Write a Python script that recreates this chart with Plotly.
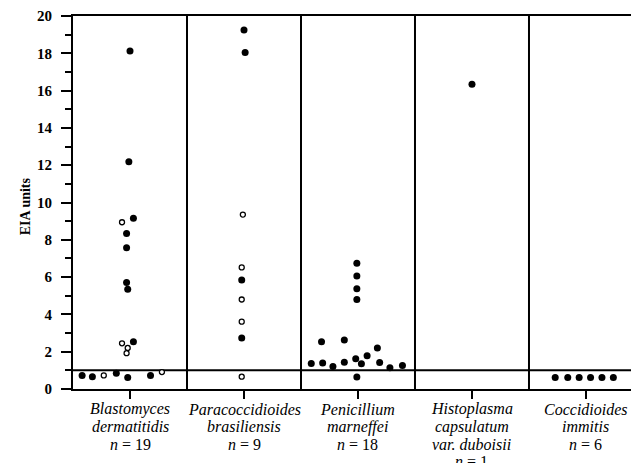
import plotly.graph_objects as go

# ---- data ----
categories = ["Blastomyces dermatitidis", "Paracoccidioides brasiliensis",
              "Penicillium marneffei", "Histoplasma capsulatum var. duboisii",
              "Coccidioides immitis"]
label_lines = [
    ["<i>Blastomyces</i>", "<i>dermatitidis</i>", "<i>n</i> = 19"],
    ["<i>Paracoccidioides</i>", "<i>brasiliensis</i>", "<i>n</i> = 9"],
    ["<i>Penicillium</i>", "<i>marneffei</i>", "<i>n</i> = 18"],
    ["<i>Histoplasma</i>", "<i>capsulatum</i>", "<i>var. duboisii</i>", "<i>n</i> = 1"],
    ["<i>Coccidioides</i>", "<i>immitis</i>", "<i>n</i> = 6"],
]

blasto_values = [18.13, 12.18, 9.16, 8.94, 8.34, 7.57, 5.71, 5.35, 2.54, 2.45,
                 2.20, 1.92, 0.73, 0.66, 0.73, 0.84, 0.62, 0.72, 0.91]
blasto_filled = [1, 1, 1, 0, 1, 1, 1, 1, 1, 0, 0, 0, 1, 1, 0, 1, 1, 1, 0]
blasto_jitter = [0.00, -0.01, 0.03, -0.07, -0.03, -0.03, -0.03, -0.02, 0.03, -0.07,
                 -0.02, -0.03, -0.42, -0.33, -0.23, -0.12, -0.02, 0.18, 0.28]

para_values = [19.25, 18.04, 9.35, 6.52, 5.85, 4.80, 3.61, 2.74, 0.66]
para_filled = [1, 1, 0, 0, 1, 0, 0, 1, 0]
para_jitter = [0.00, 0.01, -0.01, -0.02, -0.02, -0.02, -0.02, -0.02, -0.02]

peni_values = [6.74, 6.06, 5.37, 4.80, 2.54, 2.63, 2.20, 1.78, 1.62, 1.37,
               1.39, 1.44, 1.35, 1.42, 1.21, 1.14, 1.26, 0.64]
peni_filled = [1] * 18
peni_jitter = [-0.01, -0.01, -0.01, -0.01, -0.32, -0.12, 0.17, 0.08, -0.02, -0.41,
               -0.31, -0.12, 0.03, 0.19, -0.22, 0.28, 0.39, -0.01]

histo_values = [16.34]
histo_filled = [1]
histo_jitter = [0.00]

cocci_values = [0.62, 0.62, 0.62, 0.62, 0.62, 0.62]
cocci_filled = [1, 1, 1, 1, 1, 1]
cocci_jitter = [-0.27, -0.16, -0.06, 0.04, 0.14, 0.24]

cutoff = 1.0
y_ticks = [0, 2, 4, 6, 8, 10, 12, 14, 16, 18, 20]
y_tick_labels = ["0", "2", "4", "6", "8", "10", "12", "14", "16", "18", "20"]

groups = [
    (blasto_values, blasto_filled, blasto_jitter),
    (para_values, para_filled, para_jitter),
    (peni_values, peni_filled, peni_jitter),
    (histo_values, histo_filled, histo_jitter),
    (cocci_values, cocci_filled, cocci_jitter),
]

fx, fy, ox, oy = [], [], [], []
for i, (vals, filled, jit) in enumerate(groups):
    for v, f, j in zip(vals, filled, jit):
        if f:
            fx.append(i + j); fy.append(v)
        else:
            ox.append(i + j); oy.append(v)

fig = go.Figure()
fig.add_trace(go.Scatter(x=fx, y=fy, mode="markers", showlegend=False,
                         marker=dict(size=7, color="black", line=dict(width=0))))
fig.add_trace(go.Scatter(x=ox, y=oy, mode="markers", showlegend=False,
                         marker=dict(size=5, color="white",
                                     line=dict(width=1.3, color="black"))))

# panel separators
for k in range(len(categories) - 1):
    fig.add_shape(type="line", xref="x", yref="paper", x0=k + 0.5, x1=k + 0.5,
                  y0=0, y1=1, line=dict(color="black", width=2), layer="below")
# cut-off line
fig.add_shape(type="line", xref="paper", yref="y", x0=0, x1=1, y0=cutoff, y1=cutoff,
              line=dict(color="black", width=2), layer="below")

serif = "Liberation Serif"
for i, lines in enumerate(label_lines):
    for li, t in enumerate(lines):
        fig.add_annotation(text=t, xref="x", yref="paper", x=i, y=0,
                           xanchor="center", yanchor="middle",
                           yshift=-(20 + 17.5 * li), showarrow=False,
                           font=dict(family=serif, size=16, color="black"))

fig.add_annotation(text="<b>EIA units</b>", xref="paper", yref="paper", x=0, y=0.49,
                   xshift=-48, xanchor="center", yanchor="middle", textangle=-90,
                   showarrow=False, font=dict(family=serif, size=14, color="black"))

fig.update_layout(
    width=631, height=455,
    margin=dict(l=65, r=0, t=6, b=74),
    paper_bgcolor="white", plot_bgcolor="white",
    xaxis=dict(range=[-0.5, 4.465], tickvals=list(range(len(categories))),
               showticklabels=False, ticks="outside", ticklen=8, tickwidth=2,
               tickcolor="black", showline=True, linewidth=2, linecolor="black",
               mirror=True, showgrid=False, zeroline=False),
    yaxis=dict(range=[0, 20], tickvals=y_ticks,
               ticktext=["<b>" + t + "</b>" for t in y_tick_labels],
               ticks="outside", ticklen=10,
               tickwidth=2, tickcolor="black", showline=True, linewidth=2,
               linecolor="black", showgrid=False, zeroline=False,
               ticklabelstandoff=6, ticklabeloverflow="allow",
               tickfont=dict(family=serif, size=15, color="black", weight="bold"),
               minor=dict(dtick=1, ticks="outside", ticklen=6, tickwidth=2,
                          tickcolor="black", showgrid=False)),
)

fig.write_html("out.html")
